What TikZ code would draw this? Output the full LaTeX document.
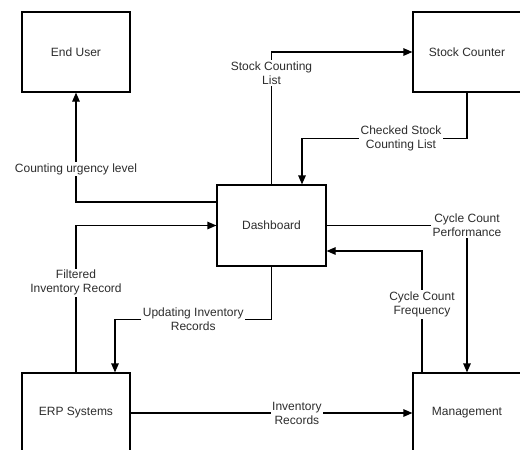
\documentclass[tikz,border=0pt]{standalone}
\usepackage{fontspec}
\setmainfont{Liberation Sans}
\definecolor{textgray}{RGB}{45, 45, 45}
\usetikzlibrary{arrows.meta,positioning,calc}

\begin{document}
\begin{tikzpicture}[
    x=1pt, y=-1pt,
    box/.style={
        rectangle,
        draw=black,
        line width=1.2pt,
        minimum width=108pt,
        minimum height=80pt,
        align=center,
        text=textgray,
        font=\fontsize{12}{14}\selectfont
    },
    arrow/.style={-{Triangle[length=9pt,width=7.5pt]},line width=1.2pt},
    flowlabel/.style={
        fill=white,
        inner sep=1.5pt,
        align=center,
        text=textgray,
        font=\fontsize{12}{14}\selectfont
    }
]    % Frame of the page
    \clip (0,0) rectangle (520,450);
    \fill[white] (0,0) rectangle (520,450);

    % External entities
    \node[box] (enduser) at (76,52) {End User};
    \node[box] (counter) at (467,52) {Stock Counter};
    \node[box, minimum width=109pt, minimum height=81pt] (dash) at (271.5,225.5) {Dashboard};
    \node[box] (erp) at (76,413) {ERP Systems};
    \node[box] (mgmt) at (467,413) {Management};

    % Data flows
    \draw[arrow] ([yshift=23.5pt]dash.west) -| node[flowlabel, pos=0.65] {Counting urgency level} (enduser.south);
    \draw[arrow] (dash.north) |- node[flowlabel, pos=0.42] {Stock Counting\\List} (counter.west);
    \draw[arrow] (counter.south) -- ++(0,46) -| node[flowlabel, pos=0.2] {Checked Stock\\Counting List} ([xshift=30.5pt]dash.north);
    \draw[arrow] (dash.east) -| node[flowlabel, pos=0.5] {Cycle Count\\Performance} (mgmt.north);
    \draw[arrow] ([xshift=-45pt]mgmt.north) |- node[flowlabel, pos=0.28] {Cycle Count\\Frequency} ([yshift=-25.5pt]dash.east);
    \draw[arrow] (dash.south) -- ++(0,53) -| node[flowlabel, pos=0.25] {Updating Inventory\\Records} ([xshift=39pt]erp.north);
    \draw[arrow] (erp.north) |- node[flowlabel, pos=0.305] {Filtered\\Inventory Record} (dash.west);
    \draw[arrow] (erp.east) -- node[flowlabel, pos=0.59] {Inventory\\Records} (mgmt.west);
\end{tikzpicture}
\end{document}
